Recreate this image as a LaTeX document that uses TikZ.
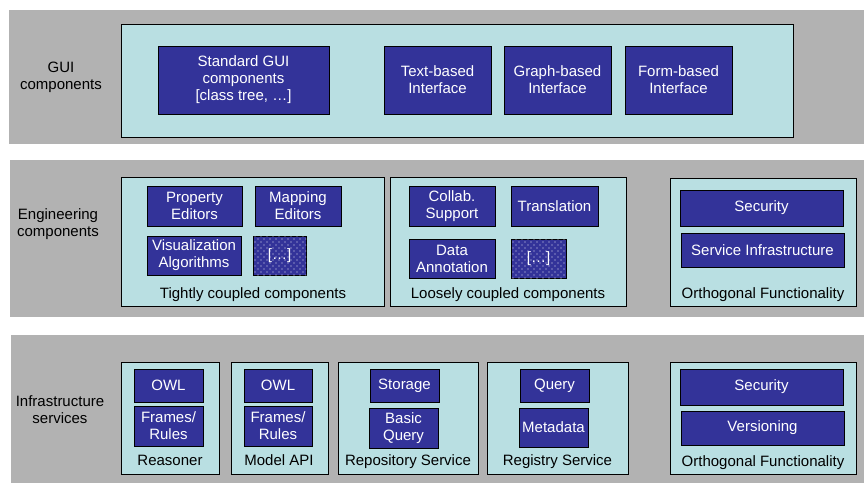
\documentclass[tikz,border=0pt]{standalone}
\usepackage{fontspec}
\setmainfont{Liberation Sans}
\usetikzlibrary{patterns.meta}
\definecolor{bandgray}{HTML}{B2B2B2}
\definecolor{groupcyan}{HTML}{B9DFE2}
\definecolor{compblue}{HTML}{333399}
\begin{document}
\begin{tikzpicture}[x=1pt,y=-1pt,font=\fontsize{15}{17}\selectfont]
    \tikzstyle{band}=[fill=bandgray,draw=none]
    \tikzstyle{group}=[fill=groupcyan,draw=black,line width=0.8pt]
    \tikzstyle{comp}=[rectangle,draw=black,line width=0.8pt,fill=compblue,text=white,align=center,inner sep=0pt]
    \tikzstyle{dotty}=[comp,postaction={pattern={Dots[distance=6pt,radius=0.65pt]},pattern color=white!85!compblue},
        postaction={pattern={Dots[distance=6pt,radius=0.65pt,xshift=3pt,yshift=3pt]},pattern color=white!85!compblue}]
    \tikzstyle{caption}=[anchor=base,inner sep=0pt]
    \tikzstyle{layer}=[align=center,inner sep=0pt]
    \useasboundingbox (0,0) rectangle (864,485);

    % the three layers
    \foreach \top/\bot/\lft in {10/144/9, 160/317/10, 335/483/11}
        \fill[band] (\lft,\top) rectangle (864,\bot);

    \foreach \a/\b/\c/\d in {121/24/793/137, 121/177/384/306, 390/177/626/306, 670/178/856/306,
            121/362/219/474, 231/362/328/474, 338/362/478/474, 487/362/628/474, 670/362/856/474}
        \filldraw[group] (\a,\b) rectangle (\c,\d);

    \node[layer] (L-gui) at (61,77) {GUI\\components};
    \node[layer] (L-eng) at (58,224) {Engineering\\components};
    \node[layer] (L-inf) at (60,410) {Infrastructure\\services};

    \foreach \name/\x/\y/\w/\h/\txt in {
            std/243.5/80/171/68/{Standard GUI\\components\\{[}class tree, …]},
            text/437.5/80/107/68/{Text-based\\Interface},
            graph/557.5/80/107/68/{Graph-based\\Interface},
            form/678.5/80/107/68/{Form-based\\Interface},
            prop/194.5/206/95/40/{Property\\Editors},
            map/298/206/86/40/{Mapping\\Editors},
            vis/194/255.5/94/39/{Visualization\\Algorithms},
            collab/452/206/86/40/{Collab.\\Support},
            trans/554.5/206/87/40/{Translation},
            data/452/258.5/86/39/{Data\\Annotation},
            sec-e/761.5/208/163/36/{Security},
            svc/762.5/250/163/34/{Service Infrastructure},
            owl-r/168.5/385.5/69/33/{OWL},
            fr-r/168.5/426/69/40/{Frames/\\Rules},
            owl-m/278/385.5/68/33/{OWL},
            fr-m/278/426/68/40/{Frames/\\Rules},
            stor/404.5/385.5/69/33/{Storage},
            bq/403.5/428/69/40/{Basic\\Query},
            query/554.5/385.5/69/33/{Query},
            meta/553.5/427.5/69/39/{Metadata},
            sec-i/761.5/387/163/36/{Security},
            vers/762.5/428/163/34/{Versioning}}
        \node[comp,minimum width=\w pt,minimum height=\h pt] (C-\name) at (\x,\y) {\txt};

    \foreach \name/\x/\y/\w/\h in {tight/279.5/255.5/53/39, loose/538.5/258.5/55/39}
        \node[dotty,minimum width=\w pt,minimum height=\h pt] (D-\name) at (\x,\y) {[…]};

    \foreach \name/\x/\y/\txt in {tight/253/298/{Tightly coupled components},
            loose/508/298/{Loosely coupled components},
            orth-e/763/298/{Orthogonal Functionality},
            reas/170/465.5/{Reasoner}, model/279/465.5/{Model API},
            repo/408/465.5/{Repository Service}, reg/557.5/465.5/{Registry Service},
            orth-i/763/466/{Orthogonal Functionality}}
        \node[caption] (T-\name) at (\x,\y) {\txt};
\end{tikzpicture}
\end{document}
